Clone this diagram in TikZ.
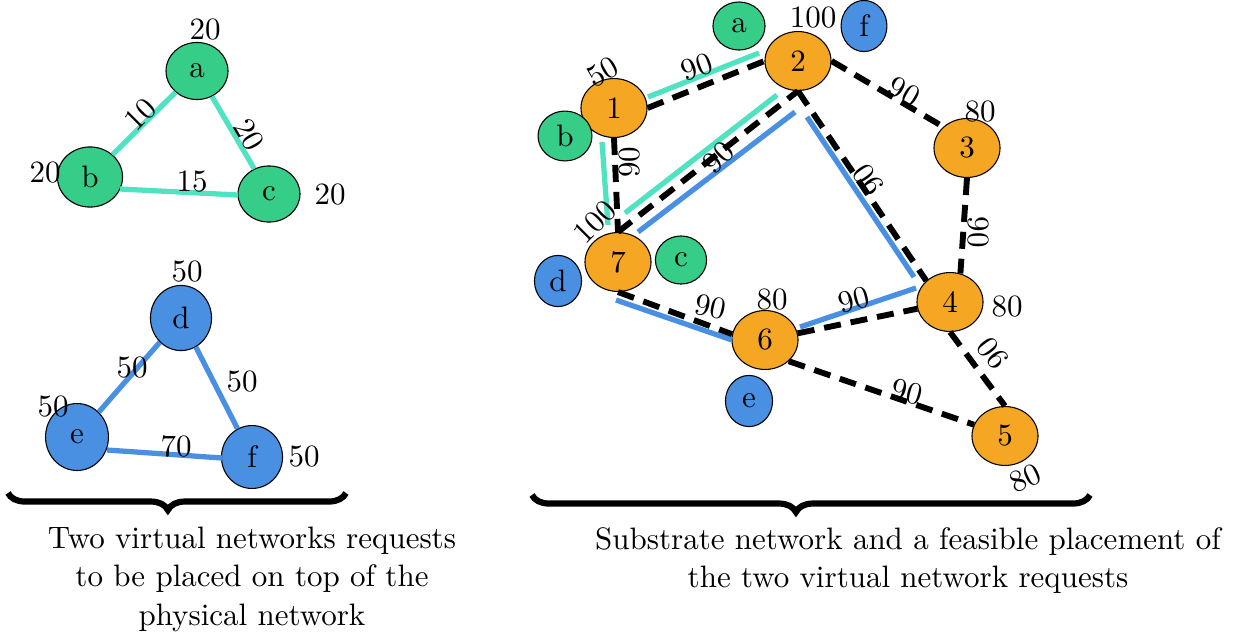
\documentclass[tikz,border=0pt]{standalone}
\usetikzlibrary{shapes.geometric,decorations.pathreplacing}
\definecolor{vgreen}{HTML}{36CD89}
\definecolor{sorange}{HTML}{F5A623}
\definecolor{vblue}{HTML}{4A90E2}
\definecolor{vteal}{HTML}{50E3C2}
\begin{document}
\begin{tikzpicture}[x=0.3226pt,y=-0.3226pt,
  nd/.style={ellipse,draw=black,line width=0.35pt,inner sep=0pt},
  gnode/.style={nd,fill=vgreen},
  bnode/.style={nd,fill=vblue},
  onode/.style={nd,fill=sorange,minimum width=21.3pt,minimum height=19pt},
  lbl/.style={inner sep=0pt},
  tline/.style={draw=vteal,line width=1.7pt},
  bline/.style={draw=vblue,line width=1.7pt},
  dline/.style={draw=black,line width=1.9pt,dash pattern=on 5.5pt off 3.2pt},
  brc/.style={draw=black,line width=2pt,decorate,decoration={brace,mirror,amplitude=5.5pt,aspect=0.473}},
  captext/.style={inner sep=0pt,align=center,font=\fontsize{10}{12.4}\selectfont}]
\useasboundingbox (0,0) rectangle (1254,637);

% ---- virtual request 1 (green)
\node[gnode,minimum width=20pt,minimum height=18.4pt] (a) at (197,71) {a};
\node[gnode,minimum width=21pt,minimum height=19.4pt] (b) at (90,177) {b};
\node[gnode,minimum width=20pt,minimum height=18.1pt] (c) at (269,194) {c};
\draw[tline] (a) -- (b);
\draw[tline] (a) -- (c);
\draw[tline] ([shift={(30,12)}]b.center) -- ([shift={(-31,1)}]c.center);
\node[lbl] (la) at (205,30) {20};
\node[lbl] (lb) at (45,173) {20};
\node[lbl] (lc) at (330,195) {20};
\node[lbl,rotate=45] (lab) at (140,114) {10};
\node[lbl,rotate=-60] (lac) at (249,135) {20};
\node[lbl] (lbc) at (192,182) {15};

% ---- virtual request 2 (blue)
\node[bnode,minimum width=19.7pt,minimum height=21pt] (d) at (181,318) {d};
\node[bnode,minimum width=20.3pt,minimum height=21.6pt] (e) at (77,437) {e};
\node[bnode,minimum width=19.7pt,minimum height=20.3pt] (f) at (252,457) {f};
\draw[bline] (d) -- (e);
\draw[bline] (d) -- (f);
\draw[bline] ([shift={(30,13)}]e.center) -- ([shift={(-30,1)}]f.center);
\node[lbl] (ld) at (187,272) {50};
\node[lbl] (le) at (53,407) {50};
\node[lbl] (lf) at (304,457) {50};
\node[lbl] (lde) at (132,368) {50};
\node[lbl] (ldf) at (242,382) {50};
\node[lbl] (lef) at (176,446) {70};

% ---- substrate network
\node[onode] (n1) at (614,108) {1};
\node[onode] (n2) at (798,61) {2};
\node[onode] (n3) at (967,148) {3};
\node[onode] (n4) at (950,302) {4};
\node[onode] (n5) at (1005,436) {5};
\node[onode] (n6) at (765,340) {6};
\node[onode] (n7) at (618,262) {7};

% placed virtual nodes
\node[gnode,minimum width=16.8pt,minimum height=15.5pt] (pa) at (739,26) {a};
\node[bnode,minimum width=14.8pt,minimum height=16.5pt] (pf) at (864,26) {f};
\node[gnode,minimum width=17.4pt,minimum height=16.1pt] (pb) at (565,136) {b};
\node[gnode,minimum width=16.5pt,minimum height=15.5pt] (pc) at (681,260) {c};
\node[bnode,minimum width=15.2pt,minimum height=16.5pt] (pd) at (558,281) {d};
\node[bnode,minimum width=15.2pt,minimum height=16.5pt] (pe) at (749,401) {e};

% mapped virtual links
\draw[tline] ([shift={(34,-11)}]n1.center) -- ([shift={(-39,-8)}]n2.center);
\draw[tline] ([shift={(7,-49)}]n7.center) -- ([shift={(-21,34)}]n2.center);
\draw[tline] ([shift={(-12,34)}]n1.center) -- ([shift={(-10,-37)}]n7.center);
\draw[bline] ([shift={(20,-30)}]n7.center) -- ([shift={(-3,51)}]n2.center);
\draw[bline] ([shift={(9,56)}]n2.center) -- ([shift={(-36,-25)}]n4.center);
\draw[bline] ([shift={(35,-13)}]n6.center) -- ([shift={(-34,-14)}]n4.center);
\draw[bline] ([shift={(-2,38)}]n7.center) -- ([shift={(-33,0)}]n6.center);

% substrate links
\draw[dline] (n1.east) -- (n2.west);
\draw[dline] (n2.east) -- (n3.north west);
\draw[dline] (n2.south) -- (n4.north west);
\draw[dline] (n1.south) -- (n7.north);
\draw[dline] (n7.north) -- (n2.south);
\draw[dline] (n3.south) -- (n4.70);
\draw[dline] (n7.south) -- (n6.170);
\draw[dline] (n6) -- (n4);
\draw[dline] (n4.south) -- (n5.north);
\draw[dline] (n6.south east) -- (n5.160);

% substrate labels
\node[lbl,rotate=30] (s1) at (603,72) {50};
\node[lbl] (s2) at (813,18) {100};
\node[lbl] (s3) at (980,112) {80};
\node[lbl] (s4) at (1007,307) {80};
\node[lbl,rotate=25] (s5) at (1025,478) {80};
\node[lbl] (s6) at (772,300) {80};
\node[lbl,rotate=45] (s7) at (595,222) {100};
\node[lbl,rotate=20] (e12) at (697,67) {90};
\node[lbl,rotate=-30] (e23) at (904,92) {90};
\node[lbl,rotate=90] (e17) at (630,162) {90};
\node[lbl,rotate=45] (e72) at (718,157) {90};
\node[lbl,rotate=125] (e24) at (868,180) {90};
\node[lbl,rotate=-90] (e34) at (978,232) {90};
\node[lbl,rotate=-12] (e76) at (711,307) {90};
\node[lbl,rotate=15] (e64) at (854,300) {90};
\node[lbl,rotate=127] (e45) at (993,353) {90};
\node[lbl,rotate=-15] (e65) at (907,392) {90};

% braces and captions
\coordinate (bl1) at (8,493);
\coordinate (bl2) at (346,493);
\coordinate (br1) at (532,495);
\coordinate (br2) at (1090,495);
\draw[brc] (bl1) -- (bl2);
\draw[brc] (br1) -- (br2);
\node[captext,anchor=north] (capl) at (252,526) {Two virtual networks requests\\to be placed on top of the\\physical network};
\node[captext,anchor=north] (capr) at (908,527) {Substrate network and a feasible placement of\\the two virtual network requests};
\end{tikzpicture}
\end{document}
